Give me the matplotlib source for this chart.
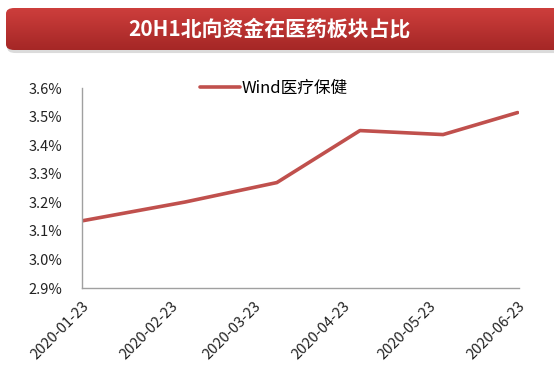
import numpy as np
import pandas as pd
import matplotlib
matplotlib.use("Agg")
import matplotlib.pyplot as plt
from matplotlib.patches import FancyBboxPatch
from matplotlib.ticker import FuncFormatter

plt.rcParams['font.family'] = ['Noto Sans CJK SC', 'DejaVu Sans']

# data
dates = pd.to_datetime(["2020-01-23", "2020-02-28", "2020-03-31",
                        "2020-04-29", "2020-05-28", "2020-06-23"])
share = [3.135, 3.201, 3.269, 3.451, 3.437, 3.514]  # percent
tick_dates = pd.to_datetime(["2020-01-23", "2020-02-23", "2020-03-23",
                             "2020-04-23", "2020-05-23", "2020-06-23"])
series_name = "Wind医疗保健"
title = "20H1北向资金在医药板块占比"

W, H = 554, 379
fig = plt.figure(figsize=(W / 100, H / 100), dpi=100)

# title banner with gradient and shadow
bx0, by0, bx1, by1 = 6 / W, 1 - 50 / H, 1.02, 1 - 8 / H
shadow = FancyBboxPatch((bx0 + 0.002, by0 - 0.008), bx1 - bx0, by1 - by0,
                        boxstyle="round,pad=0,rounding_size=0.015",
                        transform=fig.transFigure, facecolor="#b8b8b8",
                        edgecolor="none", alpha=0.5, zorder=1)
fig.patches.append(shadow)
bax = fig.add_axes([0, 0, 1, 1], zorder=2)
bax.set_xlim(0, 1)
bax.set_ylim(0, 1)
bax.axis("off")
grad = np.linspace(0, 1, 64).reshape(-1, 1)
top_c = np.array([0xcd, 0x3e, 0x3c]) / 255
bot_c = np.array([0xa5, 0x27, 0x26]) / 255
img = top_c[None, None, :] * grad[..., None] + bot_c[None, None, :] * (1 - grad[..., None])
im = bax.imshow(img, extent=[bx0, bx1, by0, by1], origin="lower", aspect="auto")
im.set_clip_path(FancyBboxPatch((bx0, by0), bx1 - bx0, by1 - by0,
                                boxstyle="round,pad=0,rounding_size=0.015",
                                transform=bax.transAxes))
bax.text(269 / W, 1 - 29 / H, title, ha="center", va="center", color="white",
         fontsize=15, fontweight="bold")

# main chart
ax = fig.add_axes([82 / W, 1 - 288 / H, (519 - 82) / W, 200 / H])
ax.plot(dates, share, color="#c0504d", lw=2.6, label=series_name,
        solid_capstyle="round")
ax.set_ylim(2.9, 3.6)
ax.set_yticks(np.arange(2.9, 3.61, 0.1))
ax.yaxis.set_major_formatter(FuncFormatter(lambda v, p: f"{v:.1f}%"))
ax.set_xlim(dates[0], pd.Timestamp("2020-06-23 12:00"))
ax.set_xticks(tick_dates)
ax.set_xticklabels([d.strftime("%Y-%m-%d") for d in tick_dates],
                   rotation=45, ha="right", rotation_mode="anchor")
ax.tick_params(axis="both", length=0, labelsize=10.5, colors="#222222")
ax.tick_params(axis="y", pad=14)
ax.tick_params(axis="x", pad=8)
for s in ["top", "right"]:
    ax.spines[s].set_visible(False)
for s in ["left", "bottom"]:
    ax.spines[s].set_color("#a0a0a0")
    ax.spines[s].set_linewidth(1.0)

leg = ax.legend(loc="center left", bbox_to_anchor=(0.235, 1.0), frameon=False,
                fontsize=12, handlelength=2.4, handletextpad=0.1)

fig.savefig("out.png", dpi=100)
